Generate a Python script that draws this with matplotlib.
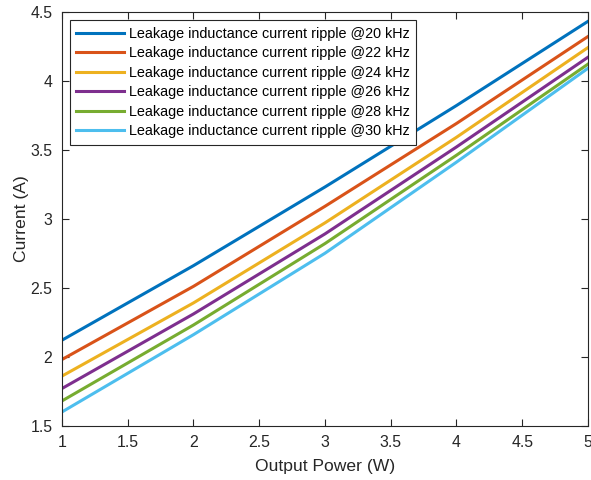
import numpy as np
import matplotlib
matplotlib.use('Agg')
import matplotlib.pyplot as plt
from matplotlib.ticker import FuncFormatter

# output power (W)
power = [1, 2, 3, 4, 5]

# leakage inductance current ripple (A) per switching frequency
freqs = ['20 kHz', '22 kHz', '24 kHz', '26 kHz', '28 kHz', '30 kHz']
ripple_20 = [2.12, 2.66, 3.23, 3.82, 4.43]
ripple_22 = [1.98, 2.51, 3.09, 3.69, 4.32]
ripple_24 = [1.86, 2.39, 2.97, 3.59, 4.24]
ripple_26 = [1.77, 2.31, 2.89, 3.52, 4.17]
ripple_28 = [1.68, 2.23, 2.82, 3.46, 4.12]
ripple_30 = [1.60, 2.16, 2.75, 3.41, 4.09]
series = [ripple_20, ripple_22, ripple_24, ripple_26, ripple_28, ripple_30]

colors = ['#0072BD', '#D95319', '#EDB120', '#7E2F8E', '#77AC30', '#4DBEEE']

plt.rcParams['font.family'] = ['Liberation Sans', 'DejaVu Sans']

fig = plt.figure(figsize=(5.91, 4.80), dpi=100)
ax = fig.add_axes([0.1049, 0.113, 0.890, 0.8627])

for vals, f, c in zip(series, freqs, colors):
    ax.plot(power, vals, color=c, lw=2.2,
            label='Leakage inductance current ripple @' + f)

ax.set_xlim(1, 5)
ax.set_ylim(1.5, 4.5)
ax.set_xticks(np.arange(1, 5.01, 0.5))
ax.set_yticks(np.arange(1.5, 4.51, 0.5))
fmt = FuncFormatter(lambda v, p: '%g' % v)
ax.xaxis.set_major_formatter(fmt)
ax.yaxis.set_major_formatter(fmt)

dark = '#262626'
ax.tick_params(direction='in', top=True, right=True, length=5,
               width=0.8, colors=dark, labelsize=11.4, pad=7)
for s in ax.spines.values():
    s.set_color(dark)
    s.set_linewidth(0.8)

ax.set_xlabel('Output Power (W)', fontsize=12.6, color=dark, labelpad=6)
ax.set_ylabel('Current (A)', fontsize=12.6, color=dark, labelpad=1)

leg = ax.legend(loc='upper left', bbox_to_anchor=(0.015, 0.979),
                borderaxespad=0, fontsize=10.4, fancybox=False,
                framealpha=1, edgecolor=dark, handlelength=3.3,
                handletextpad=0.35, labelspacing=0.38, borderpad=0.45)
leg.get_frame().set_linewidth(0.8)

fig.savefig('out.png', dpi=100)
